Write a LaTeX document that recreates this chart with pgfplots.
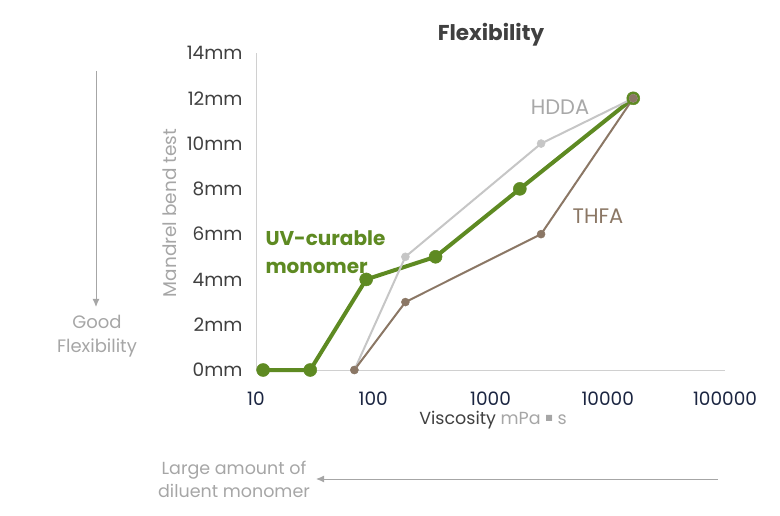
\documentclass[border=0pt]{standalone}
\usepackage{fontspec}
\setmainfont{Poppins}
\newfontfamily\dejavu{DejaVu Sans}
\usepackage{pgfplots}
\pgfplotsset{compat=1.18}
\usetikzlibrary{arrows.meta}
\definecolor{uvgreen}{HTML}{5E8A22}
\definecolor{hdda}{HTML}{C6C6C6}
\definecolor{thfa}{HTML}{8B7765}
\definecolor{darktxt}{HTML}{404040}
\definecolor{navy}{HTML}{1B2541}
\definecolor{lgray}{HTML}{A6A6A6}
\definecolor{axgray}{HTML}{D0D0D0}
\begin{document}
\begin{tikzpicture}[x=1pt,y=1pt]
\path[use as bounding box] (0,0) rectangle (780,515);
\begin{axis}[at={(256pt,145pt)}, anchor=south west, scale only axis,
  width=469pt, height=317pt,
  xmode=log, xmin=10, xmax=100000, ymin=0, ymax=14,
  axis x line=bottom, axis y line=left,
  axis line style={draw=axgray, line width=1pt, -},
  xtick={10,100,1000,10000,100000},
  xticklabels={10,100,1000,10000,100000},
  ytick={0,2,4,6,8,10,12,14},
  yticklabels={0mm,2mm,4mm,6mm,8mm,10mm,12mm,14mm},
  major tick length=0pt, minor tick num=0,
  xminorticks=false,
  tick style={draw=none},
  ticklabel style={font=\fontsize{18.5}{21}\selectfont},
  xticklabel style={text=navy, yshift=-18pt},
  yticklabel style={text=darktxt, xshift=-10pt},
  clip=false,
]
\addplot[uvgreen, line width=4pt, mark=*, mark size=6.5pt, mark options={fill=uvgreen, draw=uvgreen, line width=0.5pt}]
  coordinates {(11.5,0) (29,0) (87,4) (340,5) (1780,8) (16500,12)};
\addplot[hdda, line width=2pt, mark=*, mark size=4pt, mark options={fill=hdda, draw=hdda, line width=0.5pt}]
  coordinates {(69,0) (188,5) (2700,10) (16500,12)};
\addplot[thfa, line width=2pt, mark=*, mark size=4pt, mark options={fill=thfa, draw=thfa, line width=0.5pt}]
  coordinates {(69,0) (188,3) (2700,6) (16500,12)};
\end{axis}
% titles and labels
\node[font=\bfseries\fontsize{21.5}{24}\selectfont, text=darktxt] at (491,480) {Flexibility};
\node[rotate=90, font=\fontsize{18.5}{21}\selectfont, text=lgray] at (170,302) {Mandrel bend test};
\node[font=\fontsize{17.5}{20}\selectfont] at (493,95) {\textcolor{darktxt}{Viscosity} \textcolor{lgray}{mPa \raisebox{0.22em}{\dejavu\fontsize{8}{10}\selectfont ■}\ s}};
\node[font=\fontsize{21}{24}\selectfont, text=hdda!85!black] at (560,408) {HDDA};
\node[font=\fontsize{21}{24}\selectfont, text=thfa] at (598,299) {THFA};
\node[font=\bfseries\fontsize{20}{28}\selectfont, text=uvgreen, align=left, anchor=west] at (262,263) {UV-curable\\monomer};
\node[font=\fontsize{18}{24}\selectfont, text=lgray, align=center] at (97,179) {Good\\Flexibility};
\node[font=\fontsize{17.5}{23}\selectfont, text=lgray, align=center] at (234,36) {Large amount of\\diluent monomer};
\draw[lgray, line width=1pt, -{Latex[length=8pt,width=7pt]}] (96,444) -- (96,208);
\draw[lgray, line width=1pt, -{Latex[length=8pt,width=7pt]}] (718,36) -- (316,36);
\end{tikzpicture}
\end{document}
